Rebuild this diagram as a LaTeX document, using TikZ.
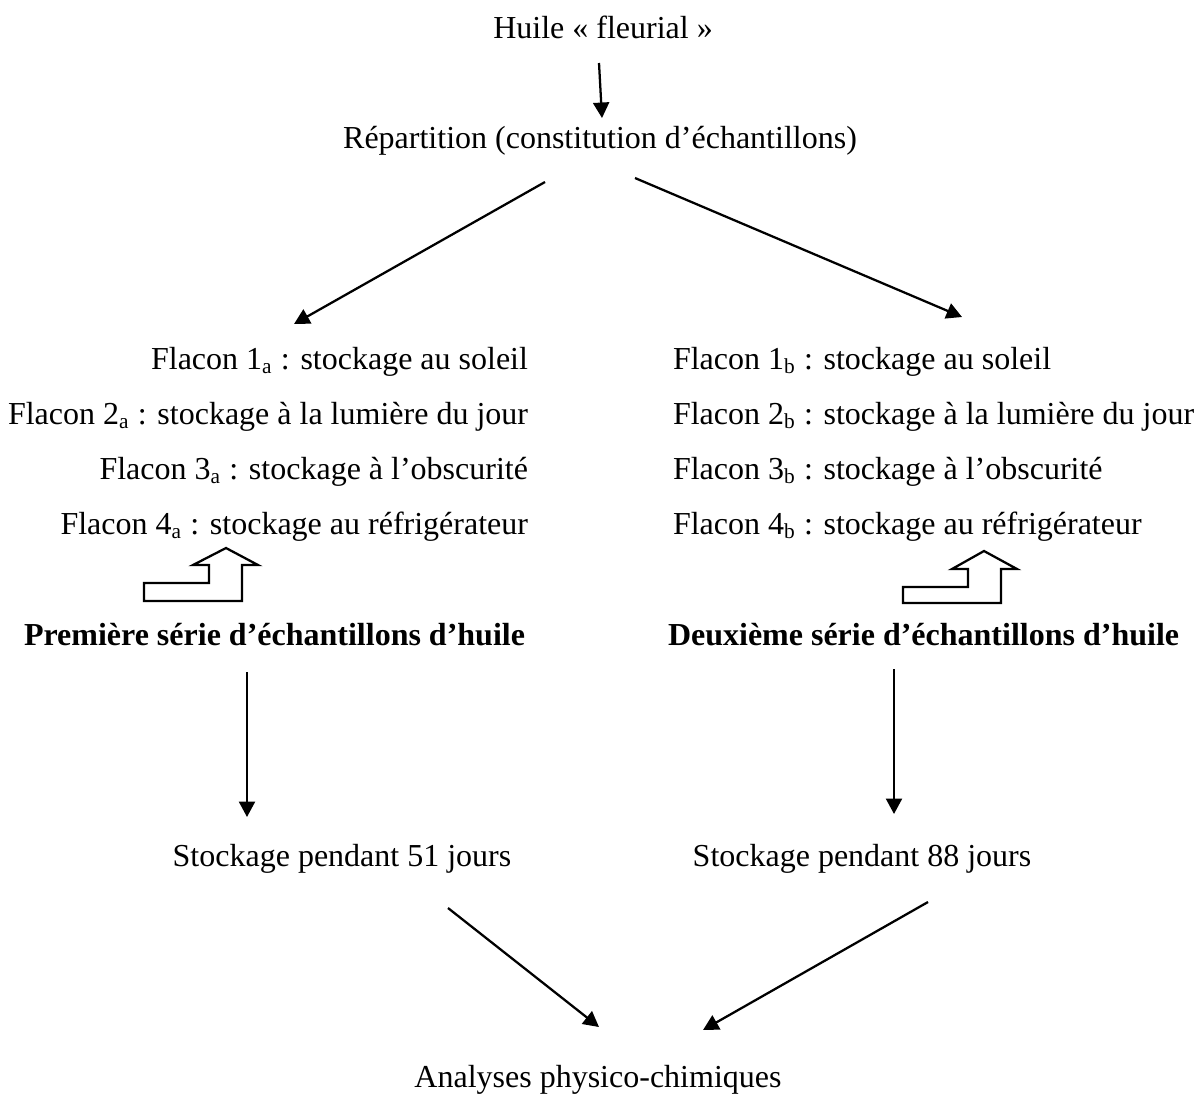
\documentclass[tikz,border=0pt]{standalone}
\usepackage{fontspec}
\setmainfont{Liberation Serif}
\usetikzlibrary{arrows.meta}
\tikzset{
  txt/.style={inner sep=0pt, outer sep=0pt, font=\fontsize{12}{14}\selectfont},
  conn/.style={line width=0.85pt, -{Triangle[length=5.8pt,width=6pt]}},
  hollow/.style={line width=0.85pt, line join=miter, fill=white},
}
\begin{document}
\begin{tikzpicture}[x=0.375pt, y=-0.375pt]
\useasboundingbox (0,0) rectangle (1195,1094);
% texts
\node[txt, anchor=base] (huile) at (603,38) {Huile « fleurial »};
\node[txt, anchor=base] (rep) at (600,148) {Répartition (constitution d’échantillons)};
\node[txt, anchor=base east] (a1) at (528,369) {Flacon 1\textsubscript{a} : stockage au soleil};
\node[txt, anchor=base east] (a2) at (528,424) {Flacon 2\textsubscript{a} : stockage à la lumière du jour};
\node[txt, anchor=base east] (a3) at (528,479) {Flacon 3\textsubscript{a} : stockage à l’obscurité};
\node[txt, anchor=base east] (a4) at (528,534) {Flacon 4\textsubscript{a} : stockage au réfrigérateur};
\node[txt, anchor=base west] (b1) at (673,369) {Flacon 1\textsubscript{b} : stockage au soleil};
\node[txt, anchor=base west] (b2) at (673,424) {Flacon 2\textsubscript{b} : stockage à la lumière du jour};
\node[txt, anchor=base west] (b3) at (673,479) {Flacon 3\textsubscript{b} : stockage à l’obscurité};
\node[txt, anchor=base west] (b4) at (673,534) {Flacon 4\textsubscript{b} : stockage au réfrigérateur};
\node[txt, anchor=base east, font=\fontsize{12}{14}\selectfont\bfseries] (sa) at (525,645) {Première série d’échantillons d’huile};
\node[txt, anchor=base west, font=\fontsize{12}{14}\selectfont\bfseries] (sb) at (668,645) {Deuxième série d’échantillons d’huile};
\node[txt, anchor=base] (ta) at (342,866) {Stockage pendant 51 jours};
\node[txt, anchor=base] (tb) at (862,866) {Stockage pendant 88 jours};
\node[txt, anchor=base] (an) at (598,1087) {Analyses physico-chimiques};
% connector ends
\coordinate (h1) at (599,63);   \coordinate (h2) at (602,118);
\coordinate (l1) at (545,182);  \coordinate (l2) at (294,324);
\coordinate (r1) at (635,178);  \coordinate (r2) at (962,317);
\coordinate (va1) at (247,672); \coordinate (va2) at (247,817);
\coordinate (vb1) at (894,669); \coordinate (vb2) at (894,814);
\coordinate (da1) at (448,908); \coordinate (da2) at (599,1027);
\coordinate (db1) at (928,902); \coordinate (db2) at (703,1030);
\draw[conn] (h1) -- (h2);
\draw[conn] (l1) -- (l2);
\draw[conn] (r1) -- (r2);
\draw[conn] (va1) -- (va2);
\draw[conn] (vb1) -- (vb2);
\draw[conn] (da1) -- (da2);
\draw[conn] (db1) -- (db2);
% hollow bent arrows
\draw[hollow] (144,601) -- (144,583) -- (209,583) -- (209,565) -- (193,565) -- (226,548) -- (258,565) -- (242,565) -- (242,601) -- cycle;
\draw[hollow] (903,603) -- (903,587) -- (968,587) -- (968,569) -- (952,569) -- (984,551) -- (1017,569) -- (1001,569) -- (1001,603) -- cycle;
\end{tikzpicture}
\end{document}
